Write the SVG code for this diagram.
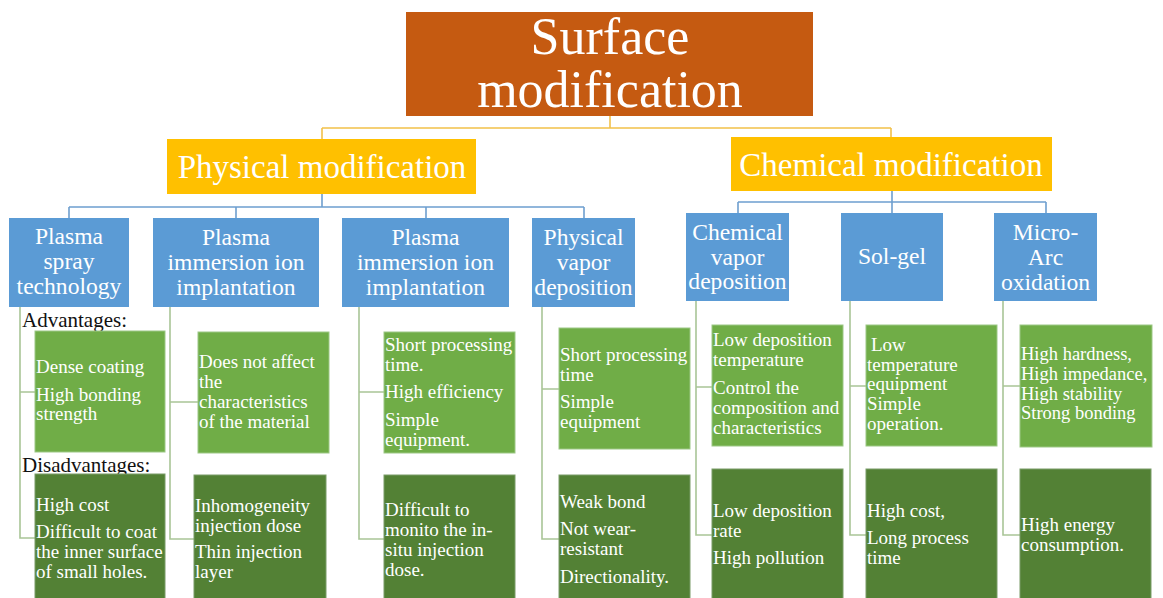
<svg xmlns="http://www.w3.org/2000/svg" width="1163" height="598" viewBox="0 0 1163 598">
<style>
text{font-family:"Liberation Serif","Times New Roman",serif;}
.w{fill:#ffffff;}
.title{font-size:52px;text-anchor:middle;}
.mid{font-size:33px;text-anchor:middle;}
.sub{font-size:23.6px;text-anchor:middle;}
.g{font-size:19px;}
.lbl{font-size:21px;fill:#111111;}
.top{fill:#C55A11;}
.yel{fill:#FFC000;}
.blu{fill:#5B9BD5;}
.lg{fill:#70AD47;stroke:#9cc785;stroke-width:1;}
.dg{fill:#538135;stroke:#7a9c68;stroke-width:1;}
.cg{stroke:#F2C14A;stroke-width:1.6;fill:none;}
.cb{stroke:#6E9FCF;stroke-width:1.6;fill:none;}
.cl{stroke:#A9C597;stroke-width:1.6;fill:none;}
</style>
<rect width="1163" height="598" fill="#ffffff"/>
<g id="connectors">
<path class="cg" d="M610 116V128M322 128H891M322 128V139M891 128V137"/>
<path class="cb" d="M322 194V207M69 207H584M69 207V218M236 207V218M426 207V218M584 207V218"/>
<path class="cb" d="M892 191V202M738 202H1046M738 202V213M892 202V213M1046 202V213"/>
<path class="cl" d="M20 307V538H35M20 392H35"/>
<path class="cl" d="M170 307V539H194M170 402H198"/>
<path class="cl" d="M359 307V539H384M359 392H384"/>
<path class="cl" d="M542 307V539H559M542 389H559"/>
<path class="cl" d="M696 301V535H712M696 387H712"/>
<path class="cl" d="M850 301V535H866M850 386H866"/>
<path class="cl" d="M1003 301V535H1020M1003 386H1020"/>
</g>
<g id="surface">
<rect class="top" x="406" y="12" width="407" height="104"/>
<text class="w title" x="610" y="54">Surface</text>
<text class="w title" x="610" y="107">modification</text>
</g>
<g id="physical">
<rect class="yel" x="167" y="139" width="309" height="55"/>
<text class="w mid" x="322" y="178">Physical modification</text>
</g>
<g id="chemical">
<rect class="yel" x="731" y="137" width="321" height="54"/>
<text class="w mid" x="891" y="176">Chemical modification</text>
</g>
<g id="plasma-spray">
<rect class="blu" x="9" y="218" width="120" height="89"/>
<text class="w sub" x="69" y="244">Plasma</text>
<text class="w sub" x="69" y="269">spray</text>
<text class="w sub" x="69" y="294">technology</text>
</g>
<g id="piii-1">
<rect class="blu" x="153" y="218" width="166" height="89"/>
<text class="w sub" x="236" y="245">Plasma</text>
<text class="w sub" x="236" y="270">immersion ion</text>
<text class="w sub" x="236" y="295">implantation</text>
</g>
<g id="piii-2">
<rect class="blu" x="342" y="218" width="167" height="89"/>
<text class="w sub" x="425.5" y="245">Plasma</text>
<text class="w sub" x="425.5" y="270">immersion ion</text>
<text class="w sub" x="425.5" y="295">implantation</text>
</g>
<g id="pvd">
<rect class="blu" x="532" y="218" width="103" height="89"/>
<text class="w sub" x="583.5" y="245">Physical</text>
<text class="w sub" x="583.5" y="270">vapor</text>
<text class="w sub" x="583.5" y="295">deposition</text>
</g>
<g id="cvd">
<rect class="blu" x="686" y="213" width="103" height="88"/>
<text class="w sub" x="737.5" y="240">Chemical</text>
<text class="w sub" x="737.5" y="265">vapor</text>
<text class="w sub" x="737.5" y="289">deposition</text>
</g>
<g id="solgel">
<rect class="blu" x="841" y="213" width="102" height="88"/>
<text class="w sub" x="892" y="264">Sol-gel</text>
</g>
<g id="mao">
<rect class="blu" x="994" y="213" width="103" height="88"/>
<text class="w sub" x="1045.5" y="240">Micro-</text>
<text class="w sub" x="1045.5" y="265">Arc</text>
<text class="w sub" x="1045.5" y="290">oxidation</text>
</g>
<g id="labels">
<text class="lbl" x="22" y="327">Advantages:</text>
<text class="lbl" x="22" y="472">Disadvantages:</text>
</g>
<g id="adv-1">
<rect class="lg" x="35" y="331" width="130" height="121"/>
<text class="w g" x="36" y="373">Dense coating</text>
<text class="w g" x="36" y="401">High bonding</text>
<text class="w g" x="36" y="420">strength</text>
</g>
<g id="dis-1">
<rect class="dg" x="35" y="474" width="130" height="126"/>
<text class="w g" x="36" y="511">High cost</text>
<text class="w g" x="36" y="538">Difficult to coat</text>
<text class="w g" x="36" y="558">the inner surface</text>
<text class="w g" x="36" y="578">of small holes.</text>
</g>
<g id="adv-2">
<rect class="lg" x="198" y="332" width="131" height="121"/>
<text class="w g" x="199" y="368">Does not affect</text>
<text class="w g" x="199" y="388">the</text>
<text class="w g" x="199" y="408">characteristics</text>
<text class="w g" x="199" y="428">of the material</text>
</g>
<g id="dis-2">
<rect class="dg" x="194" y="475" width="132" height="125"/>
<text class="w g" x="195" y="512">Inhomogeneity</text>
<text class="w g" x="195" y="532">injection dose</text>
<text class="w g" x="195" y="558">Thin injection</text>
<text class="w g" x="195" y="578">layer</text>
</g>
<g id="adv-3">
<rect class="lg" x="384" y="332" width="131" height="121"/>
<text class="w g" x="385" y="351">Short processing</text>
<text class="w g" x="385" y="371">time.</text>
<text class="w g" x="385" y="398">High efficiency</text>
<text class="w g" x="385" y="426">Simple</text>
<text class="w g" x="385" y="446">equipment.</text>
</g>
<g id="dis-3">
<rect class="dg" x="384" y="475" width="131" height="125"/>
<text class="w g" x="385" y="516">Difficult to</text>
<text class="w g" x="385" y="536">monito the in-</text>
<text class="w g" x="385" y="556">situ injection</text>
<text class="w g" x="385" y="576">dose.</text>
</g>
<g id="adv-4">
<rect class="lg" x="559" y="328" width="131" height="121"/>
<text class="w g" x="560" y="361">Short processing</text>
<text class="w g" x="560" y="381">time</text>
<text class="w g" x="560" y="408">Simple</text>
<text class="w g" x="560" y="428">equipment</text>
</g>
<g id="dis-4">
<rect class="dg" x="559" y="475" width="131" height="125"/>
<text class="w g" x="560" y="508">Weak bond</text>
<text class="w g" x="560" y="535">Not wear-</text>
<text class="w g" x="560" y="555">resistant</text>
<text class="w g" x="560" y="583">Directionality.</text>
</g>
<g id="adv-5">
<rect class="lg" x="712" y="325" width="131" height="121"/>
<text class="w g" x="713" y="346">Low deposition</text>
<text class="w g" x="713" y="366">temperature</text>
<text class="w g" x="713" y="394">Control the</text>
<text class="w g" x="713" y="414">composition and</text>
<text class="w g" x="713" y="434">characteristics</text>
</g>
<g id="dis-5">
<rect class="dg" x="712" y="469" width="131" height="131"/>
<text class="w g" x="713" y="517">Low deposition</text>
<text class="w g" x="713" y="537">rate</text>
<text class="w g" x="713" y="564">High pollution</text>
</g>
<g id="adv-6">
<rect class="lg" x="866" y="325" width="131" height="121"/>
<text class="w g" x="871" y="351">Low</text>
<text class="w g" x="867" y="371">temperature</text>
<text class="w g" x="867" y="390">equipment</text>
<text class="w g" x="867" y="410">Simple</text>
<text class="w g" x="867" y="430">operation.</text>
</g>
<g id="dis-6">
<rect class="dg" x="866" y="469" width="131" height="131"/>
<text class="w g" x="867" y="517">High cost,</text>
<text class="w g" x="867" y="544">Long process</text>
<text class="w g" x="867" y="564">time</text>
</g>
<g id="adv-7">
<rect class="lg" x="1020" y="325" width="132" height="122"/>
<text class="w g" x="1021" y="360" style="font-size:18.5px">High hardness,</text>
<text class="w g" x="1021" y="380" style="font-size:18.5px">High impedance,</text>
<text class="w g" x="1021" y="400" style="font-size:18.5px">High stability</text>
<text class="w g" x="1021" y="419" style="font-size:18.5px">Strong bonding</text>
</g>
<g id="dis-7">
<rect class="dg" x="1020" y="469" width="131" height="131"/>
<text class="w g" x="1021" y="531">High energy</text>
<text class="w g" x="1021" y="551">consumption.</text>
</g>
</svg>
